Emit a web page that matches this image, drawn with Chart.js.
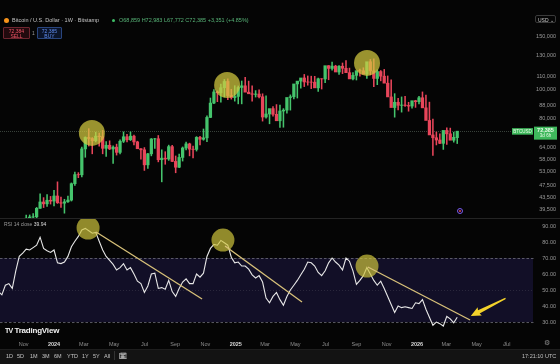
<!DOCTYPE html>
<html>
<head>
<meta charset="utf-8">
<script src="https://cdn.jsdelivr.net/npm/chart.js@4.4.1/dist/chart.umd.min.js"></script>
<style>
  body { margin: 0; width: 560px; height: 364px; overflow: hidden; background: #050505; position: relative;
         font-family: "Liberation Sans", Arial, sans-serif; color: #c8c8c8; }
  canvas { position: absolute; left: 0; }
  #price { top: 0; }
  #rsi { top: 218px; }
  .abs { position: absolute; white-space: nowrap; }
  .legend { top: 17px; font-size: 5.5px; line-height: 6px; }
  .box { top: 27px; height: 12px; font-size: 5px; line-height: 5.5px; text-align: center; border-radius: 1px; padding-top: 0.5px; box-sizing: border-box; }
  #sep { left: 0; top: 218px; width: 560px; height: 1px; background: #242424; }
  #toolbar { left: 0; top: 349px; width: 560px; height: 15px; background: #131313; border-top: 1px solid #1e1e1e; }
  .tb { top: 353px; font-size: 5.5px; color: #c4c4c4; }
</style>
</head>
<body>
<canvas id="price" width="560" height="218"></canvas>
<canvas id="rsi" width="560" height="132"></canvas>
<div id="sep" class="abs"></div>

<div class="abs" style="left:4px;top:17.5px;width:5px;height:5px;border-radius:50%;background:#f7931a"></div>
<div class="abs legend" style="left:12px;color:#c4c4c4">Bitcoin / U.S. Dollar · 1W · Bitstamp</div>
<div class="abs" style="left:112px;top:18.5px;width:3px;height:3px;border-radius:50%;background:#3fbf68"></div>
<div class="abs legend" style="left:119px;color:#58b578">O68,859 H72,983 L67,772 C72,385 +3,351 (+4.85%)</div>

<div class="abs box" style="left:3px;width:27px;border:1px solid #6e2630;background:#220a0e;color:#f05566">72,384<br>SELL</div>
<div class="abs" style="left:32px;top:30px;font-size:5px;color:#9a9a9a">1</div>
<div class="abs box" style="left:37px;width:25px;border:1px solid #29457e;background:#0b1429;color:#5f8df0">72,385<br>BUY</div>

<div class="abs" style="left:535px;top:15px;width:21px;height:8px;border:1px solid #3a3a3a;border-radius:2px;font-size:5px;line-height:8px;color:#c8c8c8;padding-left:2px;box-sizing:border-box">USD ⌄</div>

<div class="abs" style="left:4px;top:220.5px;font-size:5px;color:#9a9a9a">RSI 14 close <span style="color:#dcdcdc">39.94</span></div>

<div class="abs" style="left:457px;top:208px;width:6px;height:6px;border:1px solid #7b5cf0;border-radius:50%;box-sizing:border-box"></div>
<div class="abs" style="left:459px;top:210px;width:2px;height:2px;background:#e0405a;border-radius:50%"></div>

<div class="abs" style="left:5px;top:326px;font-size:8px;font-weight:bold;color:#f2f2f2;letter-spacing:-0.2px">
  <span style="font-size:7px;letter-spacing:-0.8px">TV</span> TradingView</div>

<div id="toolbar" class="abs"></div>
<div class="abs tb" style="left:6px">1D</div>
<div class="abs tb" style="left:17px">5D</div>
<div class="abs tb" style="left:30px">1M</div>
<div class="abs tb" style="left:42px">3M</div>
<div class="abs tb" style="left:54px">6M</div>
<div class="abs tb" style="left:67px">YTD</div>
<div class="abs tb" style="left:82px">1Y</div>
<div class="abs tb" style="left:93px">5Y</div>
<div class="abs tb" style="left:104px">All</div>
<div class="abs" style="left:114px;top:351px;width:1px;height:9px;background:#333"></div>
<div class="abs tb" style="left:119px;top:352px;font-size:6.5px;font-family:'DejaVu Sans'">🗓</div>
<div class="abs tb" style="left:522px;font-size:5.5px;color:#c0c0c0">17:21:10 UTC</div>
<div class="abs" style="left:503px;top:340px;font-size:5px;color:#777">⤢</div>
<div class="abs" style="left:544px;top:339px;font-size:7px;color:#888;font-family:'DejaVu Sans'">⚙</div>

<script>
// weekly candles, first week starts Mon 4 Sep 2023
const firstWeek = Date.UTC(2023, 8, 4);

const opens = [25970,25840,26530,26250,27990,27930,26860,29920,34520,35050,37050,37380,37450,39970,41970,41370,42530,
  42260,43950,41720,41580,42030,42580,48300,51800,51730,63140,68950,68400,67230,69650,69360,63430,64940,63110,64000,61480,
  66960,69330,67750,69650,66620,63220,62700,55850,60800,68150,68250,58100,58800,58420,64250,57350,54840,59130,63580,65630,
  63000,62900,69000,68000,68750,80450,89850,97900,97200,101100,106100,95200,93700,94550,101300,102600,97700,96500,96100,
  96300,94300,80700,82600,86100,82400,78400,84500,85100,93800,94300,104100,106400,109000,105700,105600,105500,101000,
  108300,108200,119800,117300,119400,114100,119300,117400,113500,108200,111200,115300,115200,112200,123500,115100,108600,
  114500,110500,104700,94200,86800,90400,88300,88500,88200,87800,91500,90800,93600,86600,78600,70300,68800,67600,65900,
  72800,70900,67500,68859];
const highs = [26420,26900,27480,28060,28600,28000,30300,35200,35980,37950,37980,38400,40250,44700,43400,44400,43800,
  45900,49000,43570,42850,43880,48600,52830,52600,64000,69300,73800,68900,71770,71300,72800,66800,67200,64700,65500,67700,
  71950,70600,71990,70200,67000,63350,63800,61000,68400,68450,70000,62700,61800,65000,64950,59800,60650,64100,66500,66000,
  64500,69400,69500,73600,81500,93400,99600,98700,104000,107800,108300,99900,102700,102500,106500,109600,106400,102500,
  98900,99500,96500,95000,84000,87400,88800,88500,86100,86500,95700,97900,104300,107000,112000,110700,110500,110400,108900,
  108500,110500,119900,123200,120200,119800,122300,124500,117600,113600,113300,116700,117900,115400,125700,126200,116000,
  115400,116400,110700,107500,96600,93100,94200,94600,90400,90600,91800,94700,97900,95500,90500,79400,71900,70900,69800,
  74200,74100,71800,70600,72983];
const lows = [25370,24900,26010,26130,27170,26520,26680,29900,33900,34530,34800,35650,36900,39960,40200,40550,41300,
  40750,41500,40280,38500,41800,42270,47700,50600,50900,59200,64550,60800,66600,64500,60800,59600,62800,56500,60200,60760,
  66300,66620,67300,65070,63400,58400,53500,54300,59850,63400,57150,49000,56100,57800,57200,52550,54600,57500,62700,59850,
  58900,62100,65100,67500,66800,80300,89400,90800,90500,94200,92200,92600,91200,89300,89300,99500,97800,91200,94100,93400,
  78200,80000,76600,81200,81600,74500,74600,83100,85100,92800,93400,100800,102000,103100,100400,102700,98300,100100,105100,
  107500,115800,114700,112000,112700,116800,110600,107300,107300,110600,114500,108600,111600,102000,103500,106600,106300,
  98900,93000,80600,85200,83800,87500,84400,86400,86900,89300,90300,86000,75700,60100,65100,65700,62900,65300,68500,66500,
  65800,67772];
const closes = [25840,26530,26250,27990,27930,26860,29920,34520,35050,37050,37380,37450,39970,41970,41370,42530,42260,
  43950,41720,41580,42030,42580,48300,51800,51730,63140,68950,68400,67230,69650,69360,63430,64940,63110,64000,61480,66960,
  69330,67750,69650,66620,63220,62700,55850,60800,68150,68250,58100,58800,58420,64250,57350,54840,59130,63580,65630,63000,
  62900,69000,68000,68750,80450,89850,97900,97200,101100,106100,95200,93700,94550,101300,102600,97700,96500,96100,96300,
  94300,80700,82600,86100,82400,78400,84500,85100,93800,94300,104100,106400,109000,105700,105600,105500,101000,108300,
  108200,119800,117300,119400,114100,119300,117400,113500,108200,111200,115300,115200,112200,123500,115100,108600,114500,
  110500,104700,94200,86800,90400,88300,88500,88200,87800,91500,90800,93600,86600,78600,70300,68800,67600,65900,72800,
  70900,67500,69034,72385];

const rsiValues = [46,49,47,53,54,51,62,71,73,75.5,75,76.5,78,83,76,74.5,73.5,75,67,66.5,67.5,71,77,80.5,83.5,87.5,88.5,
  87,85.5,86,80.5,75,71,68.5,66,62.5,64,66.5,62.5,64,60,55.5,54,48.5,52.5,60,60.5,51,51.5,50.5,56,49,46,51,55,57,54,54,
  60,58,60.5,71,76,78.5,78,81,79.5,78,70.5,67,67.5,65,65,63,59.5,57.5,59,55,45,42,46,48.5,44,40.5,46,50,53,56,59.5,63,
  67.5,67,65,61,59,62,67,70,67.5,65.5,62.5,70,68,62,53.5,56,59,64,60,56,53,55.5,51,46,41,36,40,39,39.5,39,38.5,42,41.5,
  44,38,33,28,30,29,27.5,33.5,32,29.5,33,39.94];

const lastPrice = 72385;
const priceTicks = [150000,130000,110000,100000,88000,80000,64000,58000,53000,47500,43500,39500];
const rsiTicks = [90,80,70,60,50,40,30];
const monthLabels = ["Nov","2024","Mar","May","Jul","Sep","Nov","2025","Mar","May","Jul","Sep","Nov","2026","Mar","May","Jul"];
const monthDates = ["2023-11","2024-01","2024-03","2024-05","2024-07","2024-09","2024-11","2025-01","2025-03","2025-05",
  "2025-07","2025-09","2025-11","2026-01","2026-03","2026-05","2026-07"];

// annotations in data units: [week, value]
const priceCircles = [[27.9,71400],[66.8,103300],[107.05,122400]];
const rsiCircles = [[26.8,88.75],[65.6,81.25],[107.05,65]];
const rsiTrendLines = [[[29.1,86.25],[59.6,44.4]],[[66.2,77.5],[88.35,42.5]],[[107.3,64.4],[136.7,31.25]]];
const rsiArrow = [[146.9,44.8],[136.9,33.8]];

const GREEN = "#45c46c", RED = "#e8455a";
const weeks = opens.map((_, i) => i);
const candleColors = weeks.map(i => closes[i] >= opens[i] ? GREEN : RED);
const monthTicks = monthDates.map(s => {
  const [y, m] = s.split("-").map(Number);
  return (Date.UTC(y, m - 1, 1) - firstWeek) / (7 * 864e5);
});

Chart.defaults.font.family = "'Liberation Sans', Arial, sans-serif";

const xScale = { type: "linear", min: 1.46, max: 154.8, offset: false };
const axisTick = { autoSkip: false, crossAlign: "far", padding: 0, color: "#9a9a9a", font: { size: 5.5 } };

const priceDecor = {
  id: "priceDecor",
  beforeDatasetsDraw(chart) {
    const { ctx, chartArea: a, scales: { y } } = chart;
    const py = Math.round(y.getPixelForValue(lastPrice)) + 0.5;
    ctx.save();
    ctx.strokeStyle = "rgba(120,140,125,0.45)";
    ctx.setLineDash([1, 1]);
    ctx.beginPath(); ctx.moveTo(a.left, py); ctx.lineTo(a.right, py); ctx.stroke();
    ctx.restore();
  },
  afterDatasetsDraw(chart) {
    const { ctx, scales: { x, y } } = chart;
    ctx.save();
    priceCircles.forEach(([w, v]) => {
      ctx.beginPath();
      ctx.arc(x.getPixelForValue(w), y.getPixelForValue(v), 13, 0, Math.PI * 2);
      ctx.fillStyle = "rgba(212,202,64,0.72)";
      ctx.fill();
    });
    ctx.restore();
  },
  afterDraw(chart) {
    const { ctx, scales: { y } } = chart;
    const py = y.getPixelForValue(lastPrice);
    ctx.save();
    ctx.fillStyle = "#3fb85c";
    ctx.fillRect(512, py - 3, 21, 6.5);
    ctx.fillRect(534, py - 4.5, 23, 13);
    ctx.fillStyle = "#eafbe9";
    ctx.font = "4.5px 'Liberation Sans'";
    ctx.textBaseline = "middle";
    ctx.textAlign = "center";
    ctx.fillText("BTCUSD", 522.5, py + 0.3);
    ctx.font = "bold 5.5px 'Liberation Sans'";
    ctx.fillText(lastPrice.toLocaleString("en-US"), 545.5, py - 0.5);
    ctx.font = "4.5px 'Liberation Sans'";
    ctx.fillText("3d 6h", 545.5, py + 5);
    ctx.restore();
  }
};

new Chart(document.getElementById("price"), {
  type: "bar",
  data: {
    datasets: [
      { data: weeks.map(i => ({ x: i, y: [lows[i], highs[i]] })), backgroundColor: candleColors,
        barThickness: 0.9, grouped: false, order: 2 },
      { data: weeks.map(i => ({ x: i, y: [opens[i], closes[i]] })), backgroundColor: candleColors,
        barThickness: 2.6, grouped: false, order: 1 }
    ]
  },
  options: {
    responsive: false, animation: false, events: [],
    layout: { padding: { right: 4 } },
    plugins: { legend: { display: false }, tooltip: { enabled: false } },
    scales: {
      x: { ...xScale, display: false },
      y: {
        type: "logarithmic", position: "right", min: 37100, max: 198600,
        grid: { display: false }, border: { display: false },
        afterBuildTicks: s => { s.ticks = priceTicks.map(v => ({ value: v })); },
        afterFit: s => { s.width = 23; s.paddingTop = 0; s.paddingBottom = 0; },
        ticks: { ...axisTick, callback: v => Number(v).toLocaleString("en-US") }
      }
    }
  },
  plugins: [priceDecor]
});

const rsiDecor = {
  id: "rsiDecor",
  beforeDatasetsDraw(chart) {
    const { ctx, chartArea: a, scales: { y } } = chart;
    const y70 = y.getPixelForValue(70), y30 = y.getPixelForValue(30), y50 = y.getPixelForValue(50);
    ctx.save();
    ctx.fillStyle = "rgba(36,28,82,0.45)";
    ctx.fillRect(a.left, y70, a.right - a.left, y30 - y70);
    ctx.strokeStyle = "#6f6f78";
    ctx.lineWidth = 0.8;
    ctx.setLineDash([2.5, 2]);
    [y70, y30].forEach(p => {
      ctx.beginPath(); ctx.moveTo(a.left, p + 0.5); ctx.lineTo(a.right + 2, p + 0.5); ctx.stroke();
    });
    ctx.strokeStyle = "rgba(120,120,130,0.3)";
    ctx.setLineDash([1, 2]);
    ctx.beginPath(); ctx.moveTo(a.left, y50 + 0.5); ctx.lineTo(a.right, y50 + 0.5); ctx.stroke();
    ctx.restore();
  },
  afterDatasetsDraw(chart) {
    const { ctx, scales: { x, y } } = chart;
    const px = p => [x.getPixelForValue(p[0]), y.getPixelForValue(p[1])];
    ctx.save();
    rsiCircles.forEach(c => {
      const [cx, cy] = px(c);
      ctx.beginPath(); ctx.arc(cx, cy, 11.5, 0, Math.PI * 2);
      ctx.fillStyle = "rgba(205,195,60,0.7)"; ctx.fill();
    });
    ctx.strokeStyle = "#d9c27a";
    ctx.lineWidth = 1.3;
    rsiTrendLines.forEach(([p1, p2]) => {
      const [x1, y1] = px(p1), [x2, y2] = px(p2);
      ctx.beginPath(); ctx.moveTo(x1, y1); ctx.lineTo(x2, y2); ctx.stroke();
    });
    const [tx, ty] = px(rsiArrow[0]), [hx, hy] = px(rsiArrow[1]);
    const ang = Math.atan2(hy - ty, hx - tx), len = Math.hypot(hx - tx, hy - ty);
    ctx.translate(hx, hy); ctx.rotate(ang);
    ctx.fillStyle = "#f3d22b";
    ctx.beginPath();
    ctx.moveTo(0, 0); ctx.lineTo(-10, -4.6); ctx.lineTo(-9, -1.8); ctx.lineTo(-len, -0.6);
    ctx.lineTo(-len, 0.6); ctx.lineTo(-9, 1.8); ctx.lineTo(-10, 4.6); ctx.closePath(); ctx.fill();
    ctx.restore();
  }
};

new Chart(document.getElementById("rsi"), {
  type: "line",
  data: {
    datasets: [{ data: weeks.map(i => ({ x: i, y: rsiValues[i] })), borderColor: "#e8e8e8",
      borderWidth: 1.1, pointRadius: 0, tension: 0 }]
  },
  options: {
    responsive: false, animation: false, events: [],
    layout: { padding: { right: 4 } },
    plugins: { legend: { display: false }, tooltip: { enabled: false } },
    scales: {
      x: {
        ...xScale, grid: { display: false, drawTicks: false }, border: { display: false },
        afterBuildTicks: s => { s.ticks = monthTicks.map(v => ({ value: v })); },
        afterFit: s => { s.height = 15; s.paddingLeft = 0; s.paddingRight = 0; },
        ticks: {
          autoSkip: false, maxRotation: 0, padding: 6,
          color: c => /^\d{4}$/.test(monthLabels[c.index]) ? "#d8d8d8" : "#8f8f8f",
          font: c => ({ size: 5.5, weight: /^\d{4}$/.test(monthLabels[c.index]) ? "bold" : "normal" }),
          callback: (v, i) => monthLabels[i]
        }
      },
      y: {
        position: "right", min: 21.9, max: 95,
        grid: { display: false }, border: { display: false },
        afterBuildTicks: s => { s.ticks = rsiTicks.map(v => ({ value: v })); },
        afterFit: s => { s.width = 23; s.paddingTop = 0; s.paddingBottom = 0; },
        ticks: { ...axisTick, callback: v => Number(v).toFixed(2) }
      }
    }
  },
  plugins: [rsiDecor]
});
</script>
</body>
</html>
